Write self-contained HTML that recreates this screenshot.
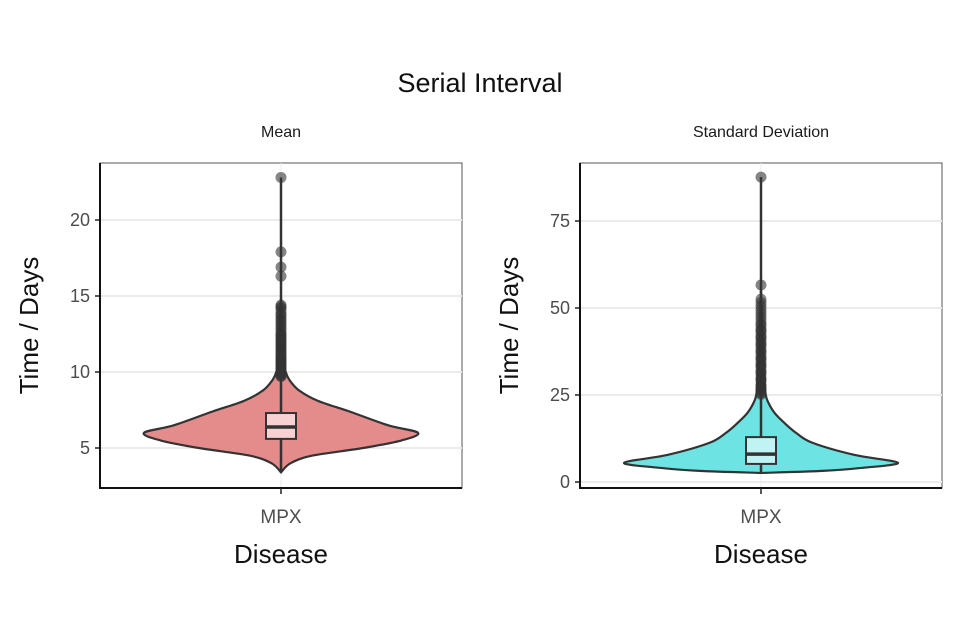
<!DOCTYPE html>
<html><head><meta charset="utf-8"><style>
html,body{margin:0;padding:0;background:#fff;}
svg{display:block;font-family:"Liberation Sans",sans-serif;}
</style></head><body>
<svg id="chart" width="960" height="640" viewBox="0 0 960 640">
<text x="480" y="92" text-anchor="middle" font-size="27" fill="#111">Serial Interval</text>
</svg>
<script>
// ---- Mean panel data ----
const meanTicks = [5, 10, 15, 20];
const meanViolinVals = [3.4, 4.0, 4.5, 5.0, 5.5, 6.0, 6.5, 7.4, 8.1, 8.8, 9.5, 10.0, 10.6, 14.4];
const meanViolinDens = [0, 0.07, 0.23, 0.60, 0.88, 1.0, 0.78, 0.50, 0.27, 0.13, 0.06, 0.035, 0.02, 0];
const meanBox = [5.6, 6.38, 7.3]; // q1, median, q3
const meanRange = [3.4, 22.8];
const meanOutliers = [22.8, 17.9, 16.9, 16.3, 14.4, 14.3, 14.2, 14.0, 13.8, 13.7, 13.5, 13.4, 13.2, 13.1, 12.9, 12.8, 12.6, 12.5, 12.4, 12.3, 12.2, 12.1, 12.0, 11.9, 11.8, 11.7, 11.6, 11.5, 11.4, 11.3, 11.2, 11.1, 11.0, 10.9, 10.85, 10.8, 10.7, 10.6, 10.55, 10.5, 10.4, 10.3, 10.25, 10.2, 10.1, 10.0, 9.95, 9.9, 9.8, 9.75, 9.7];
// ---- SD panel data ----
const sdTicks = [0, 25, 50, 75];
const sdViolinVals = [2.6, 3.2, 4.0, 5.5, 7.8, 11.2, 14.0, 17.0, 19.8, 22.7, 25.0, 30.0, 52.0];
const sdViolinDens = [0, 0.45, 0.72, 1.0, 0.68, 0.38, 0.26, 0.17, 0.10, 0.055, 0.035, 0.025, 0];
const sdBox = [5.2, 8.0, 12.9];
const sdRange = [2.6, 87.6];
const sdOutliers = [87.6, 56.6, 52.5, 51.5, 50.5, 49.5, 48.5, 47.5, 46.5, 45.5, 45.0, 44.0, 43.5, 43.0, 42.0, 41.5, 41.0, 40.0, 39.5, 39.0, 38.0, 37.5, 37.0, 36.0, 35.5, 35.0, 34.0, 33.5, 33.0, 32.0, 31.5, 31.0, 30.0, 29.5, 29.0, 28.0, 27.5, 27.0, 26.5, 26.0, 25.5, 25.2];

const svg = document.getElementById('chart');
const NS = 'http://www.w3.org/2000/svg';
function mk(tag, attrs, parent){const e=document.createElementNS(NS,tag);for(const k in attrs)e.setAttribute(k,attrs[k]);(parent||svg).appendChild(e);return e;}

function panel(cfg){
  const {x0,x1,y0,y1,domain,ticks,vals,dens,box,range,outliers,fill,boxFill,strip,key} = cfg;
  const g = mk('g',{});
  
  
  const y = v => y1 - (v-domain[0])/(domain[1]-domain[0])*(y1-y0);
  const cx = (x0+x1)/2, maxW = 137;
  mk('rect',{x:x0,y:y0,width:x1-x0,height:y1-y0,fill:'#fff',stroke:'#555','stroke-width':1},g);
  ticks.forEach(t=>{
    const l=mk('line',{x1:x0,x2:x1,y1:y(t),y2:y(t),stroke:'#ebebeb','stroke-width':2},g);
    
    
    mk('line',{x1:x0-5,x2:x0,y1:y(t),y2:y(t),stroke:'#222','stroke-width':1.5},g);
    const tx=mk('text',{x:x0-10,y:y(t)+6,'text-anchor':'end','font-size':18,fill:'#4d4d4d'},g);
    tx.textContent=t;
    
    
  });
  mk('line',{x1:cx,x2:cx,y1:y0,y2:y1,stroke:'#ebebeb','stroke-width':1},g);
  mk('line',{x1:x0,x2:x0,y1:y0,y2:y1+1,stroke:'#111','stroke-width':2},g);
  mk('line',{x1:x0-1,x2:x1,y1:y1,y2:y1,stroke:'#111','stroke-width':2},g);
  mk('line',{x1:cx,x2:cx,y1:y1,y2:y1+6,stroke:'#222','stroke-width':1.5},g);
  const right = vals.map((v,i)=>[cx+dens[i]*maxW, y(v)]);
  const left = vals.map((v,i)=>[cx-dens[i]*maxW, y(v)]).reverse();
  const pts = right.concat(left);
  let d='M'+pts[0][0]+','+pts[0][1];
  for(let i=0;i<pts.length-1;i++){
    const p0=pts[Math.max(i-1,0)],p1=pts[i],p2=pts[Math.min(i+1,pts.length-1)],p3=pts[Math.min(i+2,pts.length-1)];
    const c1=[p1[0]+(p2[0]-p0[0])/6,p1[1]+(p2[1]-p0[1])/6],c2=[p2[0]-(p3[0]-p1[0])/6,p2[1]-(p3[1]-p1[1])/6];
    d+=' C'+c1[0]+','+c1[1]+' '+c2[0]+','+c2[1]+' '+p2[0]+','+p2[1];
  }
  const vio=mk('path',{d:d+'Z',fill:fill,stroke:'#333','stroke-width':2.2},g);
  
  
  const wl=mk('line',{x1:cx,x2:cx,y1:y(range[0]),y2:y(range[1]),stroke:'#333','stroke-width':2.5},g);
  
  
  outliers.forEach(v=>{
    const c=mk('circle',{cx:cx,cy:y(v),r:5.5,fill:'#333','fill-opacity':0.6},g);
    
    
  });
  const bx=mk('rect',{x:cx-15,y:y(box[2]),width:30,height:y(box[0])-y(box[2]),fill:boxFill,stroke:'#333','stroke-width':2},g);
  
  
  mk('line',{x1:cx-15,x2:cx+15,y1:y(box[1]),y2:y(box[1]),stroke:'#333','stroke-width':3.5},g);
  const st=mk('text',{x:cx,y:137,'text-anchor':'middle','font-size':16,fill:'#1a1a1a'},g);
  st.textContent=strip;
  
  
  const xl=mk('text',{x:cx,y:523,'text-anchor':'middle','font-size':19,fill:'#4d4d4d'},g);
  xl.textContent='MPX';
  
  
  const xt=mk('text',{x:cx,y:563,'text-anchor':'middle','font-size':26,fill:'#111'},g);
  xt.textContent='Disease';
  
  
  const yt=mk('text',{x:0,y:0,'text-anchor':'middle','font-size':26,fill:'#111',transform:'translate('+(x0-62)+','+((y0+y1)/2)+') rotate(-90)'},g);
  yt.textContent='Time / Days';
  
  
}
panel({key:'mean',x0:100,x1:462,y0:163,y1:488,domain:[5-40/15.2,5+(448-163)/15.2],ticks:meanTicks,vals:meanViolinVals,dens:meanViolinDens,box:meanBox,range:meanRange,outliers:meanOutliers,fill:'#e48b8b',boxFill:'#f8d2d2',strip:'Mean'});
panel({key:'sd',x0:580,x1:942,y0:163,y1:488,domain:[-6/3.48,(482-163)/3.48],ticks:sdTicks,vals:sdViolinVals,dens:sdViolinDens,box:sdBox,range:sdRange,outliers:sdOutliers,fill:'#6ee3e3',boxFill:'#c0f4f4',strip:'Standard Deviation'});
</script>
</body></html>
